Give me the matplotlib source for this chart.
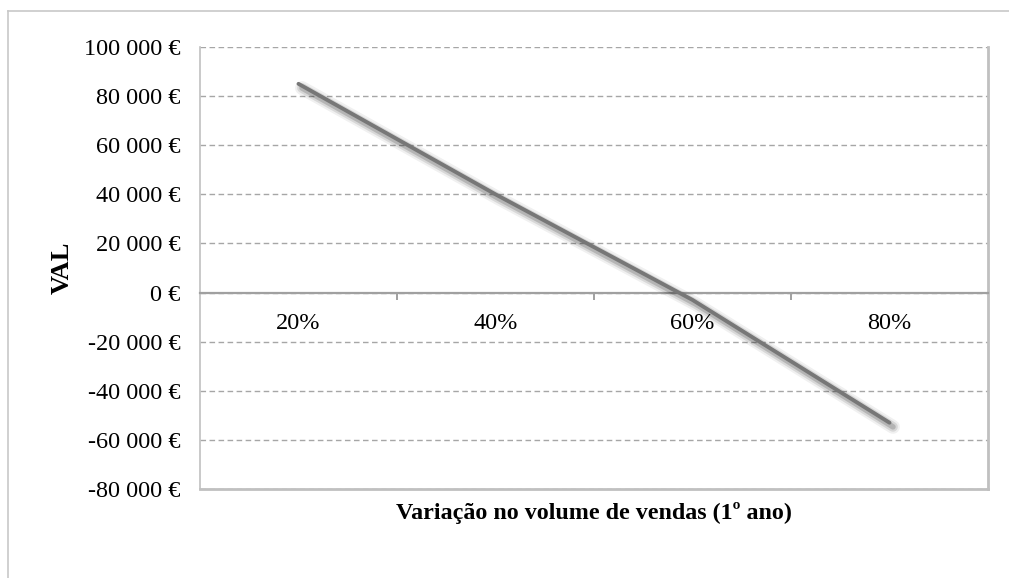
import matplotlib
matplotlib.use("Agg")
import matplotlib.pyplot as plt
import matplotlib.patheffects as pe
from matplotlib.lines import Line2D
from matplotlib.ticker import FuncFormatter, FixedLocator

# VAL sensitivity to first-year sales volume change
categories = ["20%", "40%", "60%", "80%"]
val = [85000, 40000, -3000, -53000]
y_ticks = list(range(-80000, 100001, 20000))

plt.rcParams["font.family"] = ["Liberation Serif", "DejaVu Serif"]

fig = plt.figure(figsize=(10.09, 5.78), dpi=100)
ax = fig.add_axes([200 / 1009, 1 - 489 / 578, 788 / 1009, 442 / 578])

x = list(range(len(categories)))
shadow = [
    pe.SimpleLineShadow(offset=(2.5, -3), shadow_color="black", alpha=0.06, linewidth=10),
    pe.SimpleLineShadow(offset=(2.5, -3), shadow_color="black", alpha=0.10, linewidth=7),
    pe.SimpleLineShadow(offset=(2.5, -3), shadow_color="black", alpha=0.16, linewidth=4),
    pe.Normal(),
]
ax.plot(x, val, color="#777777", linewidth=2.8, solid_capstyle="round",
        path_effects=shadow, zorder=4)

ax.set_xlim(-0.5, len(categories) - 0.5)
ax.set_ylim(y_ticks[0], y_ticks[-1])

# y axis: euro amounts with space as thousands separator
ax.yaxis.set_major_locator(FixedLocator(y_ticks))
ax.yaxis.set_major_formatter(FuncFormatter(
    lambda v, _: f"{int(v):,} €".replace(",", " ")))
ax.tick_params(axis="y", length=0, pad=14, labelsize=17.5)
ax.grid(axis="y", color="#a6a6a6", linestyle=(0, (4, 2.5)), linewidth=1.0)
ax.set_axisbelow(True)

# category axis sits on the zero line
ax.spines["bottom"].set_position(("data", 0))
ax.spines["bottom"].set_color("#a0a0a0")
ax.spines["bottom"].set_linewidth(1.6)
ax.xaxis.set_major_locator(FixedLocator([i + 0.5 for i in x[:-1]]))
ax.xaxis.set_major_formatter(FuncFormatter(lambda v, _: ""))
ax.xaxis.set_minor_locator(FixedLocator(x))
ax.set_xticklabels(categories, minor=True)
ax.tick_params(axis="x", which="major", direction="out", length=5,
               width=1.4, color="#a0a0a0")
ax.tick_params(axis="x", which="minor", length=0, pad=14.5, labelsize=17.5)

ax.spines["top"].set_visible(False)
for side in ("left", "right"):
    ax.spines[side].set_color("#c0c0c0")
ax.spines["left"].set_linewidth(1.2)
ax.spines["right"].set_linewidth(2.0)
ax.plot([0, 1], [0, 0], transform=ax.transAxes, color="#c0c0c0",
        linewidth=2.0, clip_on=False, zorder=3)

ax.set_xlabel("Variação no volume de vendas (1º ano)", fontsize=17.3,
              fontweight="bold", va="center")
ax.xaxis.set_label_coords(0.5, -24 / 442)
ax.set_ylabel("VAL", fontsize=19, fontweight="bold", va="center")
ax.yaxis.set_label_coords(-138 / 788, 0.5)

# outer chart frame
fig.add_artist(Line2D([8 / 1009, 1], [1 - 11 / 578] * 2, color="#c8c8c8", linewidth=1.2))
fig.add_artist(Line2D([8 / 1009] * 2, [0, 1 - 11 / 578], color="#c8c8c8", linewidth=1.2))

fig.savefig("out.png", dpi=100)
